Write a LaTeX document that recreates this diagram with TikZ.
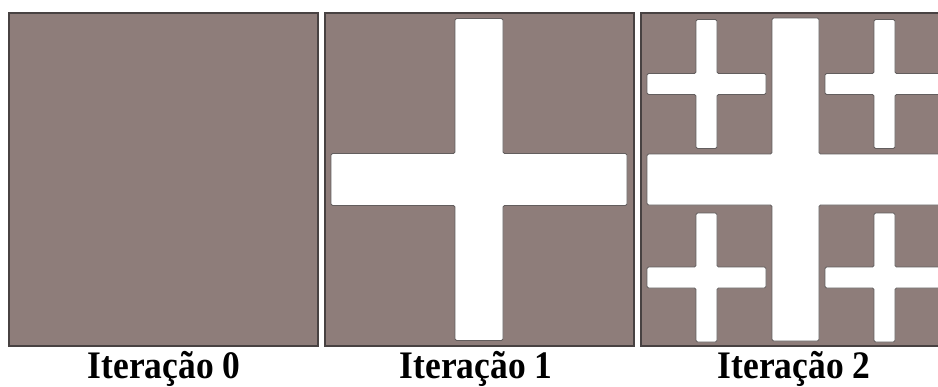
\documentclass[tikz,border=0pt]{standalone}
\usepackage{fontspec}
\setmainfont{Liberation Serif}
\newfontfamily\captionfont[FakeStretch=0.91]{Liberation Serif}
\definecolor{fractalfill}{RGB}{142,125,122}
\definecolor{fractaledge}{RGB}{72,66,66}

\begin{document}
\begin{tikzpicture}[x=1pt,y=-1pt,
  square/.style={draw=fractaledge,line width=1.3pt,fill=fractalfill},
  hole/.style={draw=fractaledge!85,line width=0.9pt,fill=white,rounded corners=1.5pt},
  caption/.style={font=\captionfont\fontsize{39}{40}\selectfont\bfseries,anchor=base,inner sep=0pt}]
  \useasboundingbox (0,0) rectangle (938,386);
  \clip (0,0) rectangle (938,386);

  % the three squares
  \foreach \sx in {9,325,641}
    \draw[square] (\sx,13) rectangle ++(309,333);

  % crosses: centre x/y, half length, half height, half widths of the bars
  \foreach \cx/\cy/\a/\b/\hv/\hh in {479/179.5/148/161/24/26,
      795.5/179.5/148.5/161.5/23.5/25.5,
      706.5/84/59.5/64.5/10.5/10.5, 884.5/84/59.5/64.5/10.5/10.5,
      706.5/277.5/59.5/64.5/10.5/10.5, 884.5/277.5/59.5/64.5/10.5/10.5}
    \draw[hole] (\cx-\hv,\cy-\b) -- (\cx+\hv,\cy-\b) -- (\cx+\hv,\cy-\hh)
      -- (\cx+\a,\cy-\hh) -- (\cx+\a,\cy+\hh) -- (\cx+\hv,\cy+\hh)
      -- (\cx+\hv,\cy+\b) -- (\cx-\hv,\cy+\b) -- (\cx-\hv,\cy+\hh)
      -- (\cx-\a,\cy+\hh) -- (\cx-\a,\cy-\hh) -- (\cx-\hv,\cy-\hh) -- cycle;

  % captions
  \node[caption] (iter0) at (164,378) {Iteração 0};
  \node[caption] (iter1) at (476,378) {Iteração 1};
  \node[caption] (iter2) at (794,378) {Iteração 2};
\end{tikzpicture}
\end{document}
